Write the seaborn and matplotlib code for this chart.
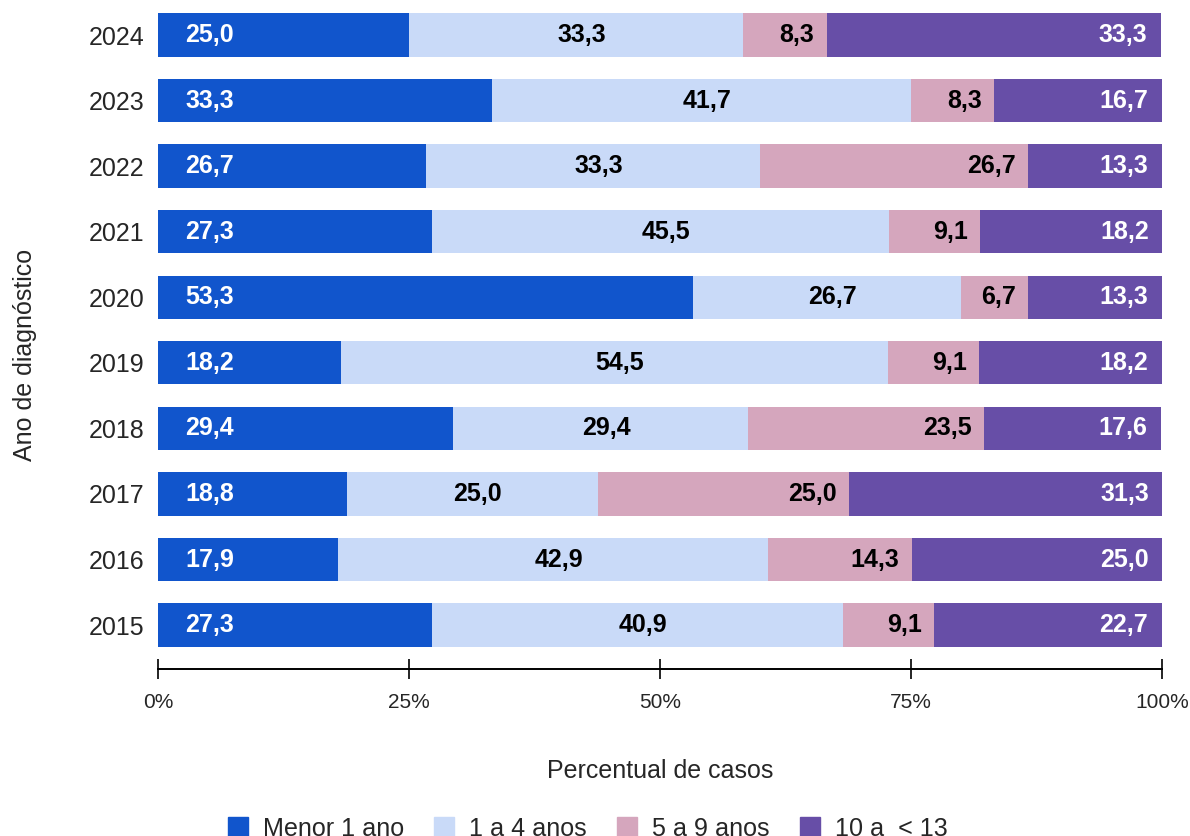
import matplotlib
matplotlib.use("Agg")
import matplotlib.pyplot as plt
import numpy as np
import pandas as pd
import seaborn as sns

# Percent of cases by age group per year of diagnosis
anos = ["2024", "2023", "2022", "2021", "2020", "2019", "2018", "2017", "2016", "2015"]
menor_1_ano = [25.0, 33.3, 26.7, 27.3, 53.3, 18.2, 29.4, 18.8, 17.9, 27.3]
de_1_a_4 = [33.3, 41.7, 33.3, 45.5, 26.7, 54.5, 29.4, 25.0, 42.9, 40.9]
de_5_a_9 = [8.3, 8.3, 26.7, 9.1, 6.7, 9.1, 23.5, 25.0, 14.3, 9.1]
de_10_a_13 = [33.3, 16.7, 13.3, 18.2, 13.3, 18.2, 17.6, 31.3, 25.0, 22.7]

grupos = ["Menor 1 ano", "1 a 4 anos", "5 a 9 anos", "10 a  < 13"]
cores = ["#1155cc", "#c9daf8", "#d5a6bd", "#674ea7"]
cores_texto = ["white", "black", "black", "white"]
x_ticks = [0, 25, 50, 75, 100]
x_ticklabels = ["0%", "25%", "50%", "75%", "100%"]

sns.set_theme(style="white")
plt.rcParams["font.family"] = ["Liberation Sans", "DejaVu Sans"]

series = [menor_1_ano, de_1_a_4, de_5_a_9, de_10_a_13]
df = pd.DataFrame({"ano": anos})
for g, s in zip(grupos, series):
    df[g] = s
cum = np.cumsum(np.array(series), axis=0)
for i, g in enumerate(grupos):
    df[f"cum_{i}"] = cum[i]

fig = plt.figure(figsize=(11.9, 8.36), dpi=100)
ax = fig.add_axes([158 / 1190, 1 - 669 / 836, 1004 / 1190, 669 / 836])

# stacked bars: draw cumulative totals from the widest down
for i in reversed(range(4)):
    sns.barplot(data=df, x=f"cum_{i}", y="ano", order=anos, orient="h",
                color=cores[i], width=0.66, saturation=1, ax=ax,
                linewidth=0)

# segment value labels
for j, ano in enumerate(anos):
    for i in range(4):
        val = series[i][j]
        right = cum[i][j]
        left = right - val
        txt = f"{val:.1f}".replace(".", ",")
        kw = dict(color=cores_texto[i], fontsize=18, fontweight="bold",
                  va="center", textcoords="offset points",
                  annotation_clip=False)
        if i == 0:
            ax.annotate(txt, (left, j), xytext=(19.5, 0), ha="left", **kw)
        elif i == 1:
            ax.annotate(txt, ((left + right) / 2, j), xytext=(4, 0), ha="center", **kw)
        elif i == 2:
            ax.annotate(txt, (right, j), xytext=(-9, 0), ha="right", **kw)
        else:
            ax.annotate(txt, (right, j), xytext=(-10, 0), ha="right", **kw)

ax.set_xlim(0, 100)
ax.set_ylim(9.67, -0.534)
ax.set_xticks(x_ticks)
ax.set_xticklabels(x_ticklabels, fontsize=15)
ax.tick_params(axis="x", direction="inout", length=15, width=1.2,
               color="black", pad=9.5, bottom=True)
ax.tick_params(axis="y", length=0, pad=9.5, labelsize=18)
for s in ["top", "right", "left"]:
    ax.spines[s].set_visible(False)
ax.spines["bottom"].set_color("black")
ax.spines["bottom"].set_linewidth(1.4)

ax.set_xlabel("Percentual de casos", fontsize=18)
ax.xaxis.set_label_coords(0.5, -0.134)
ax.set_ylabel("Ano de diagnóstico", fontsize=18)
ax.yaxis.set_label_coords(-0.121, 0.469)

handles = [plt.Rectangle((0, 0), 1, 1, color=c) for c in cores]
fig.legend(handles, grupos, loc="center", bbox_to_anchor=(0.494, 0.0087),
           ncol=4, frameon=False, fontsize=18.1, handlelength=0.8,
           handleheight=0.8, handletextpad=0.6, columnspacing=1.2,
           borderaxespad=0, borderpad=0)

fig.savefig("out.png", dpi=100)
